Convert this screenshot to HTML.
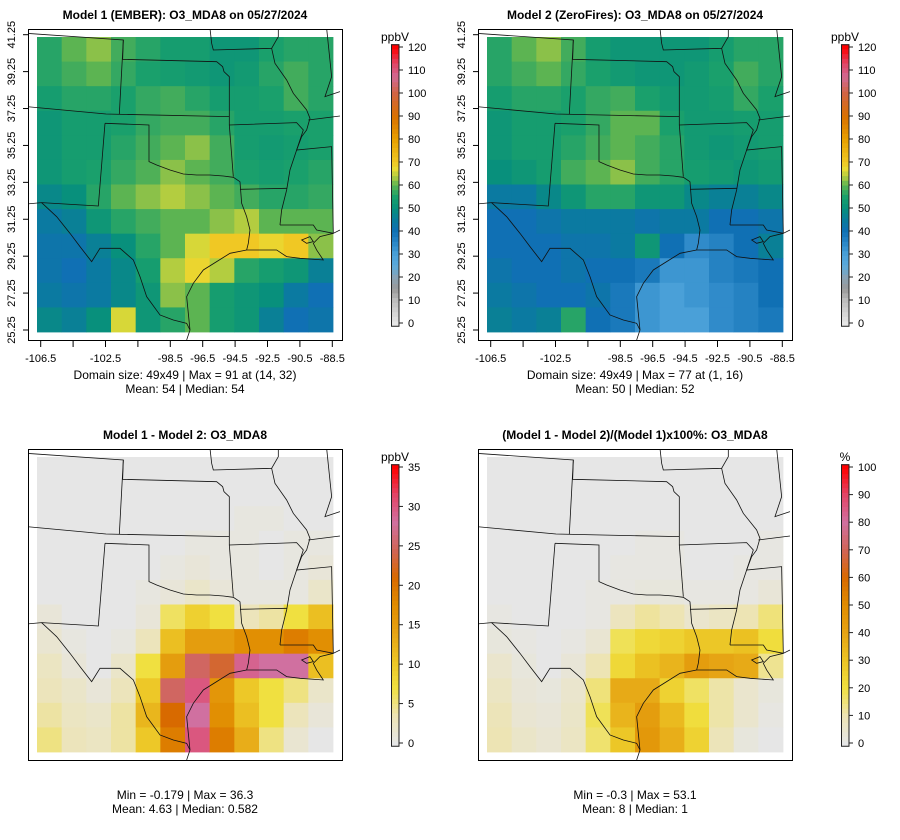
<!DOCTYPE html>
<html><head><meta charset="utf-8">
<style>
body{margin:0;background:#fff;}
svg{display:block;font-family:"Liberation Sans",sans-serif;}
</style></head>
<body>
<svg id="fig" width="900" height="840" viewBox="0 0 900 840" xmlns="http://www.w3.org/2000/svg">
<rect width="900" height="840" fill="#fff"/>
</svg>
<script>
// ---- data (12x12 coarse grids, rows north->south, cols west->east) ----
const model1 = [
[56,60,62,58,56,54,54,52,52,55,56,56],
[56,58,60,57,55,54,53,52,53,56,58,56],
[54,56,56,55,57,58,56,54,54,55,58,56],
[52,54,54,55,57,58,58,56,54,54,55,55],
[52,54,54,56,58,60,62,58,54,53,54,55],
[52,54,55,57,59,62,60,58,55,54,55,56],
[48,50,56,60,62,64,62,60,58,56,56,57],
[44,46,52,56,58,60,60,62,64,60,60,60],
[42,42,46,50,56,60,66,70,70,68,70,62],
[42,40,44,48,54,64,68,64,56,54,52,46],
[44,42,44,48,52,62,60,54,52,50,44,40],
[48,46,50,66,52,56,60,54,52,46,40,42]];
const model2 = [
[56,60,62,58,54,52,52,52,52,54,56,56],
[56,58,60,57,55,53,52,52,53,55,58,56],
[54,56,56,55,57,58,55,53,53,54,57,55],
[52,54,54,55,57,60,60,55,53,53,54,54],
[52,54,54,56,58,60,58,56,53,52,53,54],
[50,52,54,58,60,62,58,56,54,53,52,53],
[44,44,48,52,56,56,52,52,48,46,46,48],
[40,40,42,44,44,44,42,44,44,40,40,42],
[40,40,40,42,42,44,52,40,34,36,40,46],
[42,40,40,42,40,40,38,32,32,36,38,40],
[44,42,40,40,42,38,32,30,32,34,36,40],
[46,44,46,56,40,38,32,30,30,34,36,38]];
const diffVals = [
[0,0,0,0,0,0,0,0,0,0,0,0],
[0,0,0,0,0,0,0,0,0,0,0,0],
[0,0,0,0,0,0,0,0,0.5,0.5,0,0],
[0,0,0,0,0,0,0.5,0.5,0.5,0,0.5,0.5],
[0,0,0,0,0,0.5,1,0.5,0.5,0,0.5,1],
[0,0,0,0,0.5,1,2,1,0.5,0.5,0.5,2],
[1,0,0,0,1,6,9,7,3,4,7,11],
[1.5,0.5,0,0.5,3,11,15,15,17,17,19,17],
[2.5,1,0,2,7,15,25,23,29,28,28,11],
[3,2,1,3,10,25,30,16,10,7,5,2],
[4,2.5,2,4,12,21,28,17,11,7,3,1],
[5,3,2.5,4,10,19,30,19,13,5,1.5,0]];
const pctVals = [
[0,0,0,0,0,0,0,0,0,0,0,0],
[0,0,0,0,0,0,0,0,0,0,0,0],
[0,0,0,0,0,0,0,0,0,0,0,0],
[0,0,0,0,0,0,1,1,0,0,0,1],
[0,0,0,0,0,1,1,1,0,0,1,1],
[0,0,0,0,1,1,2,2,1,1,1,3],
[1,0,0,0,1,8,12,10,5,7,10,15],
[2,1,0,1,4,18,23,25,29,29,31,21],
[5,2,0,3,10,23,31,35,43,40,38,13],
[7,3,2,5,15,38,38,25,17,11,5,2],
[9,4,3,6,18,35,43,33,21,11,5,1],
[10,6,4,7,16,29,45,37,25,9,2,0]];
const lonTicks = [-106.5,-104.5,-102.5,-100.5,-98.5,-96.5,-94.5,-92.5,-90.5,-88.5];
const lonLabels = ["-106.5","","-102.5","","-98.5","-96.5","-94.5","-92.5","-90.5","-88.5"];
const latTicks = [41.25,39.25,37.25,35.25,33.25,31.25,29.25,27.25,25.25];
const ticks120 = [0,10,20,30,40,50,60,70,80,90,100,110,120];
const ticks35 = [0,5,10,15,20,25,30,35];
const ticks100 = [0,10,20,30,40,50,60,70,80,90,100];

const NS="http://www.w3.org/2000/svg";
const fig=document.getElementById('fig');
function mk(tag,attrs,parent){const e=document.createElementNS(NS,tag);for(const k in attrs)e.setAttribute(k,attrs[k]);(parent||fig).appendChild(e);return e;}
function hex(h){return [parseInt(h.slice(1,3),16),parseInt(h.slice(3,5),16),parseInt(h.slice(5,7),16)];}
function ramp(stops,t){t=Math.max(0,Math.min(1,t));for(let i=1;i<stops.length;i++){if(t<=stops[i][0]){const a=stops[i-1],b=stops[i];const f=(t-a[0])/(b[0]-a[0]);const A=hex(a[1]),B=hex(b[1]);return 'rgb('+A.map((v,j)=>Math.round(v+(B[j]-v)*f)).join(',')+')';}}return stops[stops.length-1][1];}
const concStops=[[0,'#e6e6e6'],[10/120,'#bdbdbd'],[15/120,'#999999'],[20/120,'#8aa2b4'],[25/120,'#5aaadc'],[30/120,'#4aa0d8'],[35/120,'#2a86c6'],[40/120,'#1070b4'],[45/120,'#0a7c9c'],[50/120,'#08907c'],[55/120,'#1aa06c'],[60/120,'#5cb452'],[63/120,'#a2c844'],[67/120,'#e8dc34'],[70/120,'#f0c824'],[80/120,'#e8a000'],[90/120,'#d87000'],[100/120,'#d06444'],[107/120,'#d06a92'],[113/120,'#e04464'],[1,'#ff0000']];
const diffStops=[[0,'#e6e6e6'],[0.1,'#ede4b4'],[0.2,'#f0e040'],[0.3,'#ecc424'],[0.4,'#e6a414'],[0.5,'#e08c00'],[0.6,'#d86a00'],[0.7,'#d06456'],[0.8,'#d070a0'],[0.9,'#e24466'],[1,'#ff0000']];

const borders=[
"M-10,10 L280,30 L268,252","M280,30 L278,88 L560,95 L578,110 L582,125 L598,140 L598,285","M540,-5 L545,40 L550,60 L725,55 L745,20 L745,-5",
"M-10,230 L228,252 L598,260","M225,280 L205,528 L35,518 L-10,522","M225,280 L357,285 L357,395 L380,405 L420,420 L460,432 L500,435 L540,435 L580,438 L610,442 L630,455",
"M598,285 L610,440","M598,285 L800,278 L820,300 L800,360 L780,420 L770,480 L755,540 L750,585","M630,478 L770,475",
"M630,455 L635,520 L650,560 L660,600 L655,640 L650,660","M725,55 L735,100 L770,150 L790,190 L830,240 L840,265 L830,300 L815,320 L800,360 L905,350 L910,610",
"M750,585 L850,585 L860,600 L910,610 L930,600","M890,-5 L905,140 L885,200 L930,185","M835,270 L930,258",
"M35,518 L80,560 L120,610 L150,650 L185,695 L210,655 L270,655 L310,690 L330,740 L350,800 L390,855 L430,870 L470,880 L480,900 L470,930",
"M480,900 L475,850 L470,800 L490,760 L520,720 L560,695 L600,670 L650,660 L700,660 L740,660 L770,680 L810,685 L880,690 L860,660 L850,640 L870,620 L910,610",
"M815,630 L840,620 L850,635 L830,640 Z"];

function panel(ox,oy,grid,stops,vmax,title,id,withAxes){
  const g=mk('g',{});
  
  
  const mx=37+ox,my=37+oy,mw=296,mh=295;
  const nr=grid.length,nc=grid[0].length;
  const cw=mw/nc,ch=mh/nr;
  const cells=mk('g',{},g);
  
  
  grid.forEach((row,r)=>row.forEach((v,c)=>{
    const rc=mk('rect',{x:(mx+c*cw).toFixed(2),y:(my+r*ch).toFixed(2),width:(cw+0.4).toFixed(2),height:(ch+0.4).toFixed(2),fill:ramp(stops,v/vmax)},cells);
    
    
  }));
  const cid='clip'+id;
  const cp=mk('clipPath',{id:cid},g);mk('rect',{x:28+ox,y:29+oy,width:314,height:311},cp);
  const bg=mk('g',{'clip-path':'url(#'+cid+')'},g);
  const bt=mk('g',{transform:'translate('+(30+ox)+','+(30+oy)+') scale(0.3333)'},bg);
  
  
  borders.forEach(d=>{mk('path',{d:d,fill:'none',stroke:'#111','stroke-width':0.8,'vector-effect':'non-scaling-stroke'},bt);});
  const box=mk('rect',{x:28.5+ox,y:29.5+oy,width:314,height:311,fill:'none',stroke:'#000','stroke-width':1},g);
  
  
  const t=mk('text',{x:185+ox,y:19+oy,'text-anchor':'middle','font-size':12,'font-weight':'bold'},g);t.textContent=title;
  
  
  if(withAxes){
    const xs=v=>40.7+ox+(v-lonTicks[0])/(lonTicks[9]-lonTicks[0])*(332.3-40.7);
    const ys=v=>34.7+oy+(latTicks[0]-v)/(latTicks[0]-latTicks[8])*(330-34.7);
    const ax=mk('g',{},g);
    
    
    mk('line',{x1:xs(lonTicks[0]),x2:xs(lonTicks[9]),y1:340.5+oy,y2:340.5+oy,stroke:'#000'},ax);
    lonTicks.forEach((v,i)=>{mk('line',{x1:xs(v),x2:xs(v),y1:340+oy,y2:347+oy,stroke:'#000'},ax);
      if(lonLabels[i]){const tx=mk('text',{x:xs(v),y:362+oy,'text-anchor':'middle','font-size':11},ax);tx.textContent=lonLabels[i];}});
    const ay=mk('g',{},g);
    
    
    mk('line',{x1:28.5+ox,x2:28.5+ox,y1:ys(latTicks[0]),y2:ys(latTicks[8]),stroke:'#000'},ay);
    latTicks.forEach(v=>{mk('line',{x1:23+ox,x2:28+ox,y1:ys(v),y2:ys(v),stroke:'#000'},ay);
      const tx=mk('text',{x:0,y:0,'text-anchor':'middle','font-size':11,transform:'translate('+(15+ox)+','+ys(v)+') rotate(-90)'},ay);tx.textContent=v.toFixed(2);});
  }
  return g;
}

function colorbar(x,t0,t1,ticks,stops,vmax,unit,id){
  const g=mk('g',{});
  
  
  const yv=v=>t1-(v/vmax)*(t1-t0);
  const n=60,lo=-vmax*0.01,hi=vmax*1.01;
  for(let i=0;i<n;i++){const a=lo+(hi-lo)*i/n,b=lo+(hi-lo)*(i+1)/n;
    mk('rect',{x:x,y:yv(b),width:8,height:yv(a)-yv(b)+0.5,fill:ramp(stops,(a+b)/2/vmax)},g);}
  mk('rect',{x:x+0.5,y:yv(hi)+0.5,width:7.5,height:yv(lo)-yv(hi),fill:'none',stroke:'#222','stroke-width':1},g);
  ticks.forEach(v=>{mk('line',{x1:x+8,x2:x+12,y1:yv(v),y2:yv(v),stroke:'#222'},g);
    const tx=mk('text',{x:x+17,y:yv(v)+4,'font-size':11},g);tx.textContent=String(v);});
  const u=mk('text',{x:x+4,y:yv(hi)-3,'text-anchor':'middle','font-size':12},g);u.textContent=unit;
}

function caption(ox,y,l1,l2){
  const a=mk('text',{x:185+ox,y:y,'text-anchor':'middle','font-size':12});a.textContent=l1;
  
  
  const b=mk('text',{x:185+ox,y:y+14,'text-anchor':'middle','font-size':12,'xml:space':'preserve'});b.textContent=l2;
  
  
}

panel(0,0,model1,concStops,120,'Model 1 (EMBER): O3_MDA8 on 05/27/2024','model1',true);
panel(450,0,model2,concStops,120,'Model 2 (ZeroFires): O3_MDA8 on 05/27/2024','model2',true);
panel(0,420,diffVals,diffStops,35,'Model 1 - Model 2: O3_MDA8','diff',false);
panel(450,420,pctVals,diffStops,100,'(Model 1 - Model 2)/(Model 1)x100%: O3_MDA8','pct',false);

colorbar(391,47,323,ticks120,concStops,120,'ppbV','colorbar-model1');
colorbar(841,47,323,ticks120,concStops,120,'ppbV','colorbar-model2');
colorbar(391,467,743,ticks35,diffStops,35,'ppbV','colorbar-diff');
colorbar(841,467,743,ticks100,diffStops,100,'%','colorbar-pct');

caption(0,379,'Domain size: 49x49 | Max = 91 at (14, 32)','Mean: 54 |  Median: 54');
caption(450,379,'Domain size: 49x49 | Max = 77 at (1, 16)','Mean: 50 |  Median: 52');
caption(0,799,'Min = -0.179 | Max = 36.3','Mean: 4.63 |  Median: 0.582');
caption(450,799,'Min = -0.3 | Max = 53.1','Mean: 8 |  Median: 1');
</script>
</body></html>
